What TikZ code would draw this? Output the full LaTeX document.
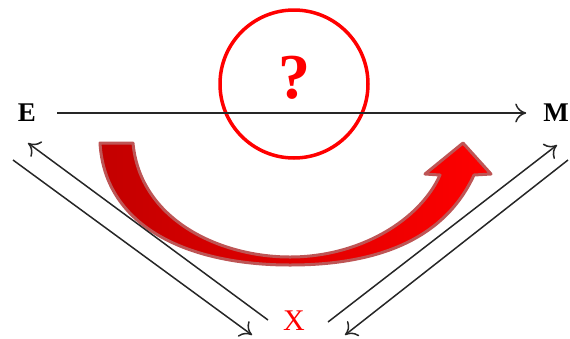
\documentclass[tikz,border=0pt]{standalone}
\usepackage{fontspec}
\setmainfont{Liberation Serif}
\usetikzlibrary{arrows.meta}
\definecolor{darkred}{RGB}{195,0,0}
\definecolor{rimred}{RGB}{190,85,85}
\begin{document}
\begin{tikzpicture}[x=1pt, y=-1pt, >={To[length=11pt,width=19pt]}, line width=1.5pt]
\useasboundingbox (0,0) rectangle (570,338);
% letras
\node[font=\fontsize{27}{30}\selectfont\bfseries] (E) at (27,113) {E};
\node[font=\fontsize{27}{30}\selectfont\bfseries] (M) at (556,113) {M};
\node[font=\fontsize{30}{34}\selectfont, red] (X) at (294,321) {X};
% circulo com interrogacao
\node[circle, draw=red, line width=3.5pt, minimum size=148pt] (q) at (294,84) {};
\node[font=\fontsize{64}{66}\selectfont\bfseries, red] (quest) at (294,78) {?};
% E -> M
\draw[->, black!85, shorten <=17pt, shorten >=13pt] (E) -- (M);
% seta curva
\path[draw=rimred, line width=3pt, line join=round, left color=darkred, right color=red]
  (100,143) -- (133,143) .. controls (140,220) and (220,257) .. (290,257)
  .. controls (360,257) and (420,220) .. (440,175) -- (425,174) -- (463,143)
  -- (491,174) -- (474,175) .. controls (445,238) and (380,265) .. (290,265)
  .. controls (190,265) and (105,228) .. (100,143) -- cycle;
% setas diagonais
\coordinate (eA) at (28,143);
\coordinate (xA) at (268,320);
\coordinate (eB) at (13,160);
\coordinate (xB) at (252,335);
\coordinate (xC) at (328,322);
\coordinate (mC) at (557,145);
\coordinate (mD) at (568,160);
\coordinate (xD) at (345,335);
\draw[->, black!85] (xA) -- (eA);
\draw[->, black!85] (eB) -- (xB);
\draw[->, black!85] (xC) -- (mC);
\draw[->, black!85] (mD) -- (xD);
\end{tikzpicture}
\end{document}
